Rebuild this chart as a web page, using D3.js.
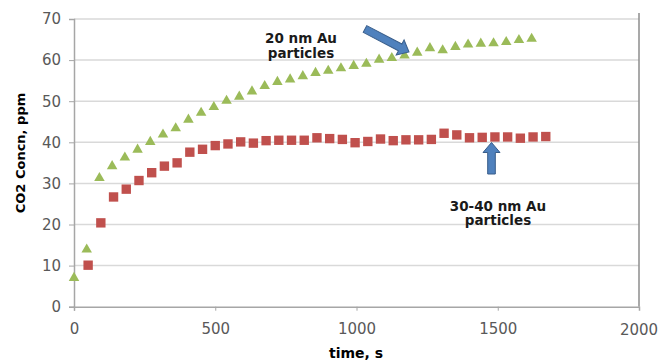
<!DOCTYPE html>
<html>
<head>
<meta charset="utf-8">
<script src="https://cdn.jsdelivr.net/npm/d3@7"></script>
<style>
  body { margin: 0; background: #fff; }
  svg { display: block; }
</style>
</head>
<body>
<svg id="chart" width="661" height="360"></svg>
<script>
// time (s) and CO2 readings for the two particle sizes
var time20 = [0, 45, 90, 135, 180, 225, 270, 315, 360, 405, 450, 495, 540, 585, 630, 675, 720, 765, 810,
  855, 900, 945, 990, 1035, 1080, 1125, 1170, 1215, 1260, 1305, 1350, 1395, 1440, 1485, 1530, 1575, 1620];
var co2_20 = [7.0, 13.9, 31.3, 34.2, 36.3, 38.2, 40.1, 41.9, 43.4, 45.5, 47.2, 48.6, 50.1, 51.1, 52.4, 53.7,
  54.7, 55.3, 56.1, 56.9, 57.4, 58.0, 58.6, 59.1, 60.1, 60.5, 61.1, 61.8, 62.9, 62.4, 63.2, 63.8, 64.0,
  64.1, 64.4, 64.9, 65.2];

var time3040 = [50, 95, 140, 185, 230, 275, 320, 365, 410, 455, 500, 545, 590, 635, 680, 725, 770, 815, 860,
  905, 950, 995, 1040, 1085, 1130, 1175, 1220, 1265, 1310, 1355, 1400, 1445, 1490, 1535, 1580, 1625, 1670];
var co2_3040 = [10.1, 20.4, 26.7, 28.6, 30.7, 32.6, 34.2, 35.0, 37.6, 38.3, 39.2, 39.6, 40.1, 39.8, 40.4,
  40.5, 40.5, 40.5, 41.1, 40.9, 40.7, 39.9, 40.2, 40.8, 40.4, 40.6, 40.6, 40.7, 42.2, 41.8, 41.1, 41.2,
  41.3, 41.3, 41.0, 41.3, 41.4];

var xTicks = [0, 500, 1000, 1500, 2000];
var yTicks = [0, 10, 20, 30, 40, 50, 60, 70];

var svg = d3.select("#chart");
var font = "'DejaVu Sans', sans-serif";

var x = d3.scaleLinear().domain([0, 2000]).range([74, 639]);
var y = d3.scaleLinear().domain([0, 70]).range([306.7, 19]);

// gridlines
svg.append("g")
  .selectAll("line")
  .data(yTicks.filter(d => d > 0))
  .enter()
  .append("line")
  .attr("x1", x(0)).attr("x2", x(2000))
  .attr("y1", d => y(d)).attr("y2", d => y(d))
  .attr("stroke", "#d9d9d9")
  .attr("stroke-width", 1.5);

// right frame line
svg.append("line")
  .attr("x1", x(2000)).attr("x2", x(2000))
  .attr("y1", 13).attr("y2", y(0))
  .attr("stroke", "#8c8c8c")
  .attr("stroke-width", 1.5);

// axes
var yAxis = svg.append("g")
  .attr("transform", "translate(" + x(0) + ",0)")
  .call(d3.axisLeft(y).tickValues(yTicks).tickSize(5).tickPadding(8));

var xAxis = svg.append("g")
  .attr("transform", "translate(0," + y(0) + ")")
  .call(d3.axisBottom(x).tickValues(xTicks.slice(0, 4)).tickFormat(d3.format("d"))
    .tickSize(4).tickPadding(13));

// last x label sits past the frame line without a tick
svg.append("text")
  .attr("x", x(2000))
  .attr("y", 335)
  .attr("text-anchor", "middle")
  .attr("fill", "#595959")
  .style("font-family", font)
  .style("font-size", "15px")
  .text(xTicks[4]);

[yAxis, xAxis].forEach(function (a) {
  a.select(".domain").attr("stroke", "#a6a6a6").attr("stroke-width", 1.5);
  a.selectAll(".tick line").attr("stroke", "#a6a6a6");
  a.selectAll(".tick text")
    .attr("fill", "#595959")
    .style("font-family", font)
    .style("font-size", "15px");
});

// series markers
svg.append("g")
  .selectAll("path")
  .data(d3.zip(time20, co2_20))
  .enter()
  .append("path")
  .attr("transform", d => "translate(" + x(d[0]) + "," + y(d[1]) + ")")
  .attr("d", d3.symbol().type(d3.symbolTriangle).size(48))
  .attr("fill", "#9bbb59");

svg.append("g")
  .selectAll("path")
  .data(d3.zip(time3040, co2_3040))
  .enter()
  .append("path")
  .attr("transform", d => "translate(" + x(d[0]) + "," + y(d[1]) + ")")
  .attr("d", d3.symbol().type(d3.symbolSquare).size(88))
  .attr("fill", "#c0504d");

// block arrows
function blockArrow(x0, y0, x1, y1) {
  var len = Math.hypot(x1 - x0, y1 - y0);
  var ang = Math.atan2(y1 - y0, x1 - x0) * 180 / Math.PI;
  var hl = 10, hw = 8.5, sw = 3.8;
  var pts = [[0, -sw], [len - hl, -sw], [len - hl, -hw], [len, 0], [len - hl, hw], [len - hl, sw], [0, sw]];
  svg.append("path")
    .attr("transform", "translate(" + x0 + "," + y0 + ") rotate(" + ang + ")")
    .attr("d", "M" + pts.join("L") + "Z")
    .attr("fill", "#4f81bd")
    .attr("stroke", "#385d8a")
    .attr("stroke-width", 1);
}
blockArrow(365, 29, 409, 52);
blockArrow(491.5, 174, 491.5, 142.5);

// annotations
function note(cx, y0, lines) {
  svg.append("text")
    .attr("text-anchor", "middle")
    .style("font-family", font)
    .style("font-size", "13.5px")
    .style("font-weight", "bold")
    .attr("fill", "#1a1a1a")
    .selectAll("tspan")
    .data(lines)
    .enter()
    .append("tspan")
    .attr("x", cx)
    .attr("y", (d, i) => y0 + i * 14.5)
    .text(d => d);
}
note(301, 43, ["20 nm Au", "particles"]);
note(498, 210.5, ["30-40 nm Au", "particles"]);

// axis titles
svg.append("text")
  .attr("x", 356)
  .attr("y", 358)
  .attr("text-anchor", "middle")
  .style("font-family", font)
  .style("font-size", "14px")
  .style("font-weight", "bold")
  .text("time, s");

svg.append("text")
  .attr("transform", "translate(25,153) rotate(-90)")
  .attr("text-anchor", "middle")
  .style("font-family", font)
  .style("font-size", "13px")
  .style("font-weight", "bold")
  .text("CO2 Concn, ppm");
</script>
</body>
</html>
